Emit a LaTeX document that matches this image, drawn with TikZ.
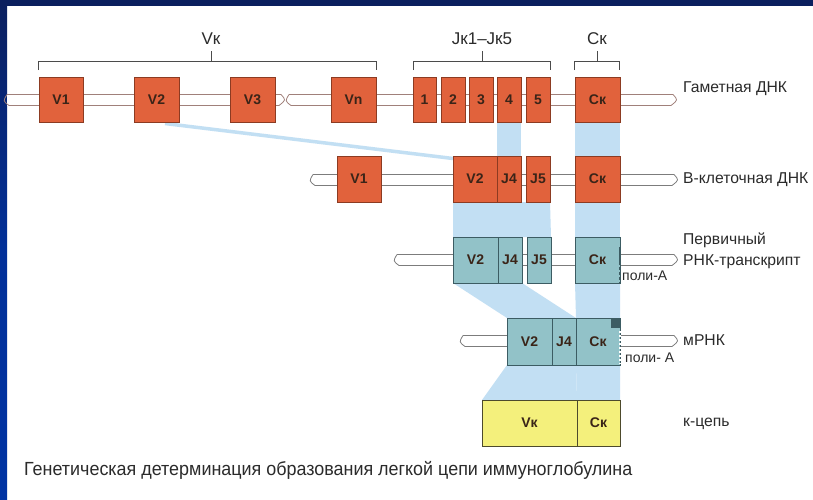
\documentclass[tikz,border=0pt]{standalone}
\usepackage{fontspec}
\setmainfont{Liberation Sans}
\usetikzlibrary{calc}
\definecolor{navy}{HTML}{0B1F5E}
\definecolor{leftblue}{HTML}{0033A3}
\definecolor{ofill}{HTML}{E1623C}
\definecolor{oline}{HTML}{8C3B22}
\definecolor{tfill}{HTML}{92C2C8}
\definecolor{tline}{HTML}{3C5C63}
\definecolor{yfill}{HTML}{F4F07C}
\definecolor{yline}{HTML}{4D4A2C}
\definecolor{txt}{HTML}{2B2B2B}
\definecolor{boxtxt}{HTML}{3A2418}
\definecolor{bandblue}{HTML}{C2DFF3}
\definecolor{strandg}{HTML}{7C7C7C}
\definecolor{strando}{HTML}{A0807A}
\tikzset{
  gbox/.style={draw=#1, line width=0.8pt, inner sep=0pt, text=boxtxt,
    font=\bfseries\fontsize{14}{14}\selectfont},
  obox/.style={gbox=oline, fill=ofill},
  tbox/.style={gbox=tline, fill=tfill},
  ybox/.style={gbox=yline, fill=yfill},
  lbl/.style={text=txt, inner sep=0pt, anchor=west, font=\fontsize{15.7}{17}\selectfont},
  toplbl/.style={text=txt, inner sep=0pt, font=\fontsize{17}{18}\selectfont},
  band/.style={fill=bandblue},
  brack/.style={draw=txt!85, line width=0.9pt},
}
\newcommand\strandseg[4]{%
  \fill[white] (#1,#3-5.5) rectangle (#2,#3+5.5);
  \draw[#4, line width=0.8pt] (#1,#3-5.5) -- (#2,#3-5.5) (#1+2,#3+5.5) -- (#2-2,#3+5.5);
  \draw[#4, line width=0.8pt] (#1,#3-5.5) .. controls (#1-4,#3+1) .. (#1+2,#3+5.5);
  \draw[#4, line width=0.8pt] (#2,#3-5.5) .. controls (#2+5,#3) .. (#2-2,#3+5.5);
}
\begin{document}
\begin{tikzpicture}[x=1pt,y=-1pt]
\useasboundingbox (0,0) rectangle (813,499);
\fill[white] (0,0) rectangle (813,499);
\shade[top color=navy, bottom color=leftblue, middle color=leftblue!85!navy] (0,0) rectangle (7,499);
\fill[navy] (0,0) rectangle (813,6);

% ---------- node positions ----------
\path
  coordinate (gV1) at (61,99.5)
  coordinate (gV2) at (156.5,99.5)
  coordinate (gV3) at (252.5,99.5)
  coordinate (gVn) at (353.5,99.5)
  coordinate (gJ1) at (424.5,99.5)
  coordinate (gJ2) at (453,99.5)
  coordinate (gJ3) at (481,99.5)
  coordinate (gJ4) at (509,99.5)
  coordinate (gJ5) at (538,99.5)
  coordinate (gC) at (597.5,99.5)
  coordinate (bV1) at (359,179)
  coordinate (bV2) at (475,179)
  coordinate (bJ4) at (509,179)
  coordinate (bJ5) at (538,179)
  coordinate (bC) at (597.5,179);

% ---------- light blue bands ----------
\fill[band] (497,122) -- (521,122) -- (521,156) -- (497,156) -- cycle;
\fill[band] (575,122) -- (620,122) -- (620,156) -- (575,156) -- cycle;
\fill[band] (453,202) -- (550,202) -- (551,237) -- (453,237) -- cycle;
\fill[band] (575,202) -- (620,202) -- (620,237) -- (575,237) -- cycle;
\fill[band] (453,283) -- (522,283) -- (576,318) -- (507,318) -- cycle;
\fill[band] (575,283) -- (620,283) -- (620,318) -- (576,318) -- cycle;
\fill[band] (507,365) -- (576,365) -- (577,400) -- (482,400) -- cycle;
\fill[band] (576,365) -- (620,365) -- (620,400) -- (577,400) -- cycle;
\draw[bandblue, line width=3.5pt] (165,123.5) -- (453,158.5);

% ---------- strands ----------
\strandseg{7}{281}{100}{strando}
\strandseg{289}{673}{100}{strando}
\strandseg{313}{674}{180}{strandg}
\strandseg{397}{674}{260}{strandg}
\strandseg{463}{674}{341}{strandg}

% ---------- Row 1: gametic DNA ----------
\node[obox, minimum width=44pt, minimum height=45pt] (n-gV1) at (gV1) {V1};
\node[obox, minimum width=45pt, minimum height=45pt] (n-gV2) at (gV2) {V2};
\node[obox, minimum width=45pt, minimum height=45pt] (n-gV3) at (gV3) {V3};
\node[obox, minimum width=45pt, minimum height=45pt] (n-gVn) at (gVn) {Vn};
\node[obox, minimum width=23pt, minimum height=45pt] (n-gJ1) at (gJ1) {1};
\node[obox, minimum width=24pt, minimum height=45pt] (n-gJ2) at (gJ2) {2};
\node[obox, minimum width=24pt, minimum height=45pt] (n-gJ3) at (gJ3) {3};
\node[obox, minimum width=24pt, minimum height=45pt] (n-gJ4) at (gJ4) {4};
\node[obox, minimum width=24pt, minimum height=45pt] (n-gJ5) at (gJ5) {5};
\node[obox, minimum width=45pt, minimum height=45pt] (n-gC) at (gC) {Cк};

% Row 2: B-cell DNA
\node[obox, minimum width=44pt, minimum height=46pt] (b1) at (bV1) {V1};
\node[obox, minimum width=44pt, minimum height=46pt] (b2) at (bV2) {V2};
\node[obox, minimum width=24pt, minimum height=46pt] (b3) at (bJ4) {J4};
\node[obox, minimum width=24pt, minimum height=46pt] (b4) at (bJ5) {J5};
\node[obox, minimum width=45pt, minimum height=46pt] (b5) at (bC) {Cк};

% Row 3: primary transcript
\node[tbox, minimum width=45pt, minimum height=46pt] (pV2) at (475.5,260) {V2};
\node[tbox, minimum width=24pt, minimum height=46pt] (pJ4) at (510,260) {J4};
\node[tbox, minimum width=24pt, minimum height=46pt] (pJ5) at (539,260) {J5};
\node[tbox, minimum width=45pt, minimum height=46pt] (pC) at (597.5,260) {Cк};
\draw[tline, line width=2pt] (620,247) -- (620,262);
\draw[tline, line width=1.4pt, dash pattern=on 3pt off 2pt] (620,262) -- (620,283);

% Row 4: mRNA
\node[tbox, minimum width=45pt, minimum height=47pt] (mV2) at (529.5,341.5) {V2};
\node[tbox, minimum width=24pt, minimum height=47pt] (mJ4) at (564,341.5) {J4};
\node[tbox, minimum width=44pt, minimum height=47pt] (mC) at (598,341.5) {Cк};
\fill[tline] (611,318.5) rectangle (620,328);
\draw[white, line width=1.2pt, dash pattern=on 2pt off 2pt] (620,331) -- (620,364);

% Row 5: kappa chain
\node[ybox, minimum width=95pt, minimum height=46pt] (kV) at (529.5,423) {Vк};
\node[ybox, minimum width=43pt, minimum height=46pt] (kC) at (598.5,423) {Cк};

% ---------- brackets ----------
\draw[brack] (38,70) -- (38,61) -- (376,61) -- (376,70) (211,61) -- (211,51);
\draw[brack] (413,70) -- (413,61) -- (550,61) -- (550,70) (482,61) -- (482,51);
\draw[brack] (574,70) -- (574,61) -- (619,61) -- (619,70) (597,61) -- (597,51);
\node[toplbl] (tV) at (211,39) {Vк};
\node[toplbl] (tJ) at (482,39) {Jк1–Jк5};
\node[toplbl] (tC) at (597,39) {Cк};

% ---------- right labels ----------
\node[lbl] (l1) at (683,89) {Гаметная ДНК};
\node[lbl] (l2) at (683,180) {В-клеточная ДНК};
\node[lbl] (l3) at (683,240) {Первичный};
\node[lbl] (l4) at (683,262) {РНК-транскрипт};
\node[lbl, font=\fontsize{14}{15}\selectfont] (pa1) at (622,276) {поли-А};
\node[lbl] (l5) at (683,340) {мРНК};
\node[lbl, font=\fontsize{14}{15}\selectfont] (pa2) at (625,358) {поли- А};
\node[lbl] (l6) at (683,424) {к-цепь};

% ---------- caption ----------
\node[text=txt, inner sep=0pt, anchor=west] (cap) at (24,470)
  {\resizebox{608pt}{\height}{\fontsize{19}{21}\selectfont Генетическая детерминация образования легкой цепи иммуноглобулина}};
\end{tikzpicture}
\end{document}
